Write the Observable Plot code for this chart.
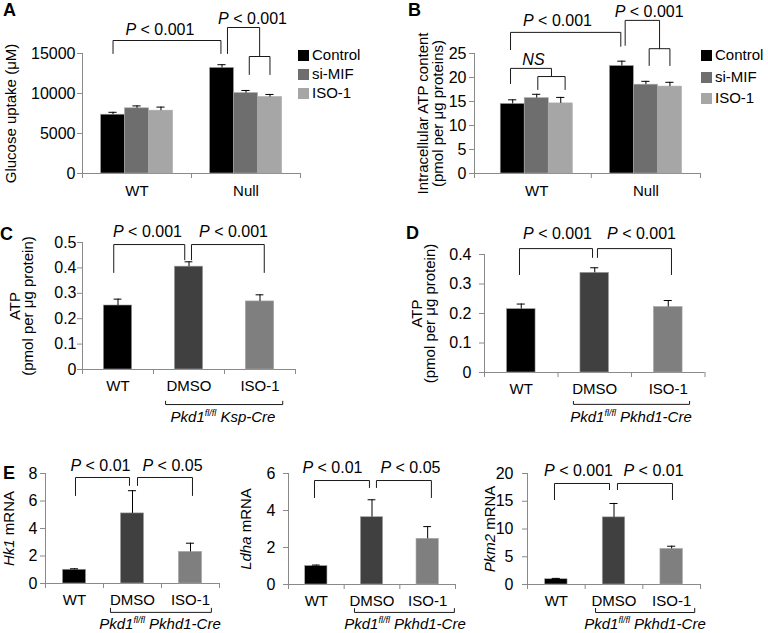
<!DOCTYPE html>
<html><head><meta charset="utf-8">
<script src="https://cdn.jsdelivr.net/npm/d3@7"></script>
<script src="https://cdn.jsdelivr.net/npm/@observablehq/plot@0.6"></script>
<style>
html,body{margin:0;padding:0;background:#fff;}
#fig{position:relative;width:768px;height:633px;overflow:hidden;font-family:'Liberation Sans',Arial,Helvetica,sans-serif;color:#000;background:#fff;}
.letter{position:absolute;font-weight:bold;font-size:18px;line-height:1;}
.leg{position:absolute;font-size:15px;line-height:15px;white-space:nowrap;}
.leg span.sq{display:inline-block;width:11px;height:11px;margin-right:3px;vertical-align:-1px;}
.geno{position:absolute;font-size:15px;font-style:italic;white-space:nowrap;transform:translate(-50%,-50%);line-height:1;}
.geno sup{font-size:9px;}
</style></head><body><div id="fig"></div><script>
// ---------------- data ----------------
// Panel A: glucose uptake (µM)
const groupsAB = ["WT", "Null"];
const seriesAB = ["Control", "si-MIF", "ISO-1"];
const glucoseWT = [7350, 8150, 7850];
const glucoseWTErr = [300, 300, 450];
const glucoseNull = [13200, 10050, 9550];
const glucoseNullErr = [400, 330, 330];
const glucoseTicks = [0, 5000, 10000, 15000];
const pA = ["P < 0.001", "P < 0.001"];
// Panel B: intracellular ATP content
const atpWT = [14.5, 15.7, 14.6];
const atpWTErr = [0.85, 0.8, 1.25];
const atpNull = [22.4, 18.5, 18.1];
const atpNullErr = [1.0, 0.7, 0.9];
const atpTicks = [0, 5, 10, 15, 20, 25];
const pB = ["P < 0.001", "P < 0.001", "NS"];
// Panels C-E
const treatments = ["WT", "DMSO", "ISO-1"];
const atpKsp = [0.252, 0.405, 0.268];
const atpKspErr = [0.025, 0.019, 0.026];
const atpKspTicks = [0, 0.1, 0.2, 0.3, 0.4, 0.5];
const pC = ["P < 0.001", "P < 0.001"];
const atpPkhd = [0.215, 0.338, 0.222];
const atpPkhdErr = [0.017, 0.017, 0.022];
const atpPkhdTicks = [0, 0.1, 0.2, 0.3, 0.4];
const pD = ["P < 0.001", "P < 0.001"];
const hk1 = [1.0, 5.1, 2.3];
const hk1Err = [0.07, 1.65, 0.63];
const hk1Ticks = [0, 2, 4, 6, 8];
const pE1 = ["P < 0.01", "P < 0.05"];
const ldha = [1.0, 3.64, 2.47];
const ldhaErr = [0.05, 0.94, 0.66];
const ldhaTicks = [0, 2, 4, 6];
const pE2 = ["P < 0.01", "P < 0.05"];
const pkm2 = [0.95, 12.1, 6.4];
const pkm2Err = [0.15, 2.5, 0.5];
const pkm2Ticks = [0, 5, 10, 15, 20];
const pE3 = ["P < 0.001", "P < 0.01"];

// ---------------- layout helpers ----------------
const FONT = "'Liberation Sans', Arial, Helvetica, sans-serif";
const AXIS = "#8a8a8a";
const seriesColors = ["#000000", "#6e6e6e", "#a6a6a6"];
const treatColors = ["#000000", "#404040", "#7f7f7f"];
const fig = document.getElementById("fig");

function groupedBars(means, errs, W) {
  const out = [];
  means.forEach((m, g) => m.forEach((v, s) => out.push({x: g + 0.5 + (s - 1) * W, y: v, e: errs[g][s], fill: seriesColors[s]})));
  return out;
}
function simpleBars(means, errs) {
  return means.map((v, i) => ({x: i + 0.5, y: v, e: errs[i], fill: treatColors[i]}));
}
function bracket(id, xa, xb, top, legA, legB) {
  return [{id, x: xa, y: legA}, {id, x: xa, y: top}, {id, x: xb, y: top}, {id, x: xb, y: legB}];
}
function italicize(root) {
  root.querySelectorAll("text, tspan").forEach(el => {
    if (el.children.length) return;
    const s = el.textContent;
    if (!s.includes("*")) return;
    el.textContent = "";
    s.split("*").forEach((part, i) => {
      if (!part) return;
      const t = document.createElementNS("http://www.w3.org/2000/svg", "tspan");
      if (i % 2) t.setAttribute("font-style", "italic");
      t.textContent = part;
      el.appendChild(t);
    });
  });
}
const markP = s => s.startsWith("P ") ? "*P*" + s.slice(1) : "*" + s + "*";

function panel(p) {
  const lines = p.brackets.flatMap((b, k) => bracket(k, ...b));
  const labels = p.pLabels.map((t, i) => ({text: markP(t), x: p.pPos[i][0], y: p.pPos[i][1]}));
  const marks = [
    Plot.ruleY([0], {stroke: AXIS}),
    Plot.ruleX([p.xDomain[0]], {stroke: AXIS}),
    Plot.axisY({ticks: p.yTicks, tickSize: 5, tickPadding: p.yPad, tickFormat: d => String(d), stroke: AXIS, fill: "#000", fontSize: 16, label: null}),
    Plot.axisX({ticks: p.xTickMarks, tickSize: 5, tickFormat: () => "", stroke: AXIS, label: null}),
    Plot.axisX({ticks: p.cats.map((c, i) => i + 0.5), tickSize: 0, tickPadding: p.catPad, tickFormat: d => p.cats[Math.floor(d)], fill: "#000", fontSize: p.catFont, label: null}),
    Plot.rect(p.bars, {x1: d => d.x - p.bw / 2, x2: d => d.x + p.bw / 2, y1: () => 0, y2: "y", fill: "fill", stroke: "#a8a8a8", strokeWidth: 0.6}),
    Plot.ruleX(p.bars, {x: "x", y1: "y", y2: d => d.y + d.e, stroke: "#000"}),
    Plot.ruleY(p.bars, {y: d => d.y + d.e, x1: d => d.x - p.cap / 2, x2: d => d.x + p.cap / 2, stroke: "#000"}),
    Plot.line(lines, {x: "x", y: "y", z: "id", stroke: "#1a1a1a", strokeWidth: 1}),
    Plot.text(labels, {x: "x", y: "y", text: "text", fontSize: 16, fill: "#000"}),
    Plot.text([p.title], {text: d => d, frameAnchor: "left", textAnchor: "middle", lineAnchor: "middle", dx: p.titleDx, rotate: -90, fontSize: p.titleFont, lineHeight: p.titleLH || 1, fill: "#000"})
  ];
  const svg = Plot.plot({
    width: p.w, height: p.h,
    marginTop: p.m[0], marginRight: p.m[1], marginBottom: p.m[2], marginLeft: p.m[3],
    x: {type: "linear", domain: p.xDomain},
    y: {type: "linear", domain: p.yDomain},
    style: {fontFamily: FONT, fontSize: "16px", color: "#000", background: "transparent", overflow: "visible"},
    marks
  });
  italicize(svg);
  svg.style.position = "absolute";
  svg.style.left = p.left + "px";
  svg.style.top = p.top + "px";
  fig.appendChild(svg);
}
function html(cls, left, top, inner) {
  const d = document.createElement("div");
  d.className = cls; d.style.left = left + "px"; d.style.top = top + "px"; d.innerHTML = inner;
  fig.appendChild(d);
}
function legend(left, tops) {
  seriesAB.forEach((s, i) => html("leg", left, tops[i] - 7.5, `<span class="sq" style="background:${seriesColors[i]}"></span>${s}`));
}

// ---------------- Panel A ----------------
const WA = 0.22;
panel({
  left: 0, top: 0, w: 384, h: 200, m: [53, 84, 27, 82],
  xDomain: [0, 2], yDomain: [0, 15000], yTicks: glucoseTicks, yPad: 2,
  xTickMarks: [0, 1, 2], cats: groupsAB, catPad: 12, catFont: 15,
  bars: groupedBars([glucoseWT, glucoseNull], [glucoseWTErr, glucoseNullErr], WA), bw: WA, cap: 0.075,
  brackets: [
    [0.28, 1.27, 16625, 15000, 15000],
    [1.33, 1.625, 18250, 15000, 14625],
    [1.53, 1.72, 14625, 12375, 12375]
  ],
  pLabels: pA, pPos: [[0.71, 18000], [1.56, 19375]],
  title: "Glucose uptake (μM)", titleDx: -71, titleFont: 15
});
legend(298, [54, 73, 92]);

// ---------------- Panel B ----------------
panel({
  left: 384, top: 0, w: 384, h: 200, m: [53, 68, 27, 90],
  xDomain: [-0.07, 2], yDomain: [0, 25], yTicks: atpTicks, yPad: 3,
  xTickMarks: [-0.07, 1, 2], cats: groupsAB, catPad: 12, catFont: 15,
  bars: groupedBars([atpWT, atpNull], [atpWTErr, atpNullErr], WA), bw: WA, cap: 0.075,
  brackets: [
    [0.26, 1.27, 29.4, 25.8, 26.5],
    [1.31, 1.625, 31.9, 26.7, 26.0],
    [1.53, 1.72, 26.0, 22.5, 22.5],
    [0.26, 0.635, 21.9, 18.75, 20.2],
    [0.51, 0.76, 20.2, 17.5, 17.5]
  ],
  pLabels: pB, pPos: [[0.69, 31.7], [1.53, 33.75], [0.47, 23.75]],
  title: "Intracellular ATP content\n(pmol per μg proteins)", titleDx: -44, titleFont: 15, titleLH: 1.0
});
legend(701, [54, 76, 97]);

// ---------------- Panel C ----------------
panel({
  left: 0, top: 200, w: 384, h: 220, m: [42, 89, 51, 82],
  xDomain: [0, 3], yDomain: [0, 0.5], yTicks: atpKspTicks, yPad: 1,
  xTickMarks: [0, 1, 2, 3], cats: treatments, catPad: 11, catFont: 15,
  bars: simpleBars(atpKsp, atpKspErr), bw: 0.4, cap: 0.11,
  brackets: [
    [0.44, 1.44, 0.492, 0.382, 0.432],
    [1.535, 2.56, 0.492, 0.432, 0.382],
    [1.17, 2.82, -0.138, -0.125, -0.125]
  ],
  pLabels: pC, pPos: [[0.915, 0.543], [2.127, 0.543]],
  title: "ATP\n(pmol per μg protein)", titleDx: -60, titleFont: 15, titleLH: 0.85
});
html("geno", 223, 416, "Pkd1<sup>fl/fl</sup> Ksp-Cre");

// ---------------- Panel D ----------------
panel({
  left: 384, top: 200, w: 384, h: 220, m: [54, 63.5, 48, 100],
  xDomain: [0, 3], yDomain: [0, 0.4], yTicks: atpPkhdTicks, yPad: 8,
  xTickMarks: [0, 1, 2, 3], cats: treatments, catPad: 11, catFont: 15,
  bars: simpleBars(atpPkhd, atpPkhdErr), bw: 0.39, cap: 0.11,
  brackets: [
    [0.476, 1.47, 0.42, 0.332, 0.39],
    [1.537, 2.544, 0.42, 0.39, 0.332],
    [1.21, 2.79, -0.108, -0.098, -0.098]
  ],
  pLabels: pD, pPos: [[0.993, 0.471], [2.136, 0.471]],
  title: "ATP\n(pmol per μg protein)", titleDx: -60, titleFont: 15, titleLH: 0.85
});
html("geno", 631, 416, "Pkd1<sup>fl/fl</sup> Pkhd1-Cre");

// ---------------- Panel E ----------------
panel({
  left: 0, top: 440, w: 256, h: 193, m: [33, 37, 50, 45],
  xDomain: [0, 3], yDomain: [0, 8], yTicks: hk1Ticks, yPad: 3,
  xTickMarks: [0, 1, 2, 3], cats: treatments, catPad: 11, catFont: 15,
  bars: simpleBars(hk1, hk1Err), bw: 0.4, cap: 0.14,
  brackets: [
    [0.517, 1.448, 7.71, 6.4, 7.13],
    [1.586, 2.534, 7.71, 7.13, 6.4],
    [1.12, 2.86, -2.1, -1.8, -1.8]
  ],
  pLabels: pE1, pPos: [[0.948, 8.58], [2.19, 8.58]],
  title: "*Hk1* mRNA", titleDx: -36, titleFont: 15
});
html("geno", 160, 623, "Pkd1<sup>fl/fl</sup> Pkhd1-Cre");

panel({
  left: 226, top: 440, w: 256, h: 193, m: [33, 27, 49, 62],
  xDomain: [0, 3], yDomain: [0, 6], yTicks: ldhaTicks, yPad: 8,
  xTickMarks: [0, 1, 2, 3], cats: treatments, catPad: 11, catFont: 15,
  bars: simpleBars(ldha, ldhaErr), bw: 0.4, cap: 0.14,
  brackets: [
    [0.467, 1.454, 5.62, 4.7, 5.24],
    [1.58, 2.567, 5.62, 5.24, 4.7],
    [1.185, 2.98, -1.51, -1.3, -1.3]
  ],
  pLabels: pE2, pPos: [[0.79, 6.32], [2.19, 6.32]],
  title: "*Ldha* mRNA", titleDx: -42, titleFont: 15
});
html("geno", 405, 623, "Pkd1<sup>fl/fl</sup> Pkhd1-Cre");

panel({
  left: 482, top: 440, w: 286, h: 193, m: [33, 68, 49, 45],
  xDomain: [0, 3], yDomain: [0, 20], yTicks: pkm2Ticks, yPad: 9,
  xTickMarks: [0, 1, 2, 3], cats: treatments, catPad: 11, catFont: 15,
  bars: simpleBars(pkm2, pkm2Err), bw: 0.39, cap: 0.14,
  brackets: [
    [0.468, 1.422, 18.2, 15.3, 17.1],
    [1.56, 2.514, 18.2, 17.1, 15.3],
    [1.18, 2.9, -5.05, -4.3, -4.3]
  ],
  pLabels: pE3, pPos: [[0.884, 20.5], [2.185, 20.5]],
  title: "*Pkm2* mRNA", titleDx: -37, titleFont: 15
});
html("geno", 645, 623, "Pkd1<sup>fl/fl</sup> Pkhd1-Cre");

// panel letters
html("letter", 3, 1, "A");
html("letter", 408, 1, "B");
html("letter", 0, 225, "C");
html("letter", 406, 224, "D");
html("letter", 3, 464, "E");
</script></body></html>
